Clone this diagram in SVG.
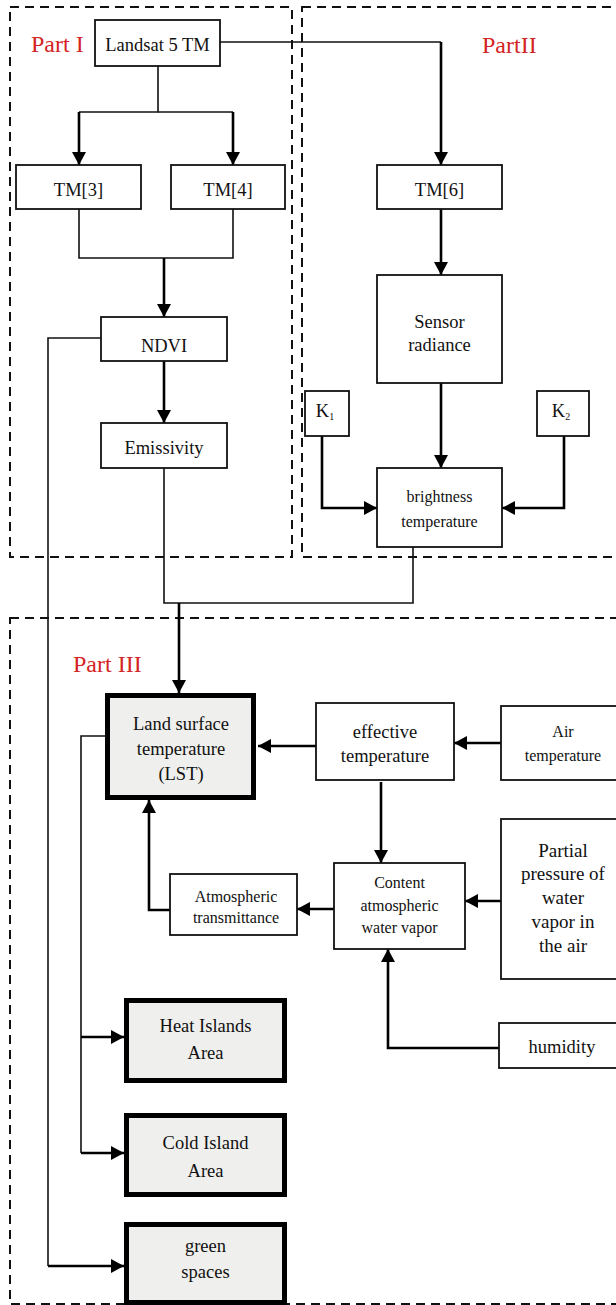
<svg xmlns="http://www.w3.org/2000/svg" width="616" height="1305" viewBox="0 0 616 1305">
<style>
text{font-family:"Liberation Serif","Times New Roman","DejaVu Serif",serif;fill:#111;text-anchor:middle}
.part{fill:#d42424;font-size:24px;text-anchor:start}
.box{fill:#fff;stroke:#111;stroke-width:1.8}
.key{fill:#efefed;stroke:#000;stroke-width:5}
.dash{fill:none;stroke:#111;stroke-width:2;stroke-dasharray:9,6}
.thin{fill:none;stroke:#111;stroke-width:1.6}
.thick{fill:none;stroke:#000;stroke-width:2.6}
.f18{font-size:18.5px}
.f16{font-size:16px}
.f19{font-size:19px}
</style>
<defs>
<marker id="ah" markerUnits="userSpaceOnUse" markerWidth="14" markerHeight="14" refX="13" refY="7" orient="auto">
<path d="M0,0 L13,7 L0,14 Z" fill="#000"/>
</marker>
</defs>
<rect width="616" height="1305" fill="#fff"/>
<g id="frames">
<rect class="dash" x="10" y="7" width="282" height="550"/>
<rect class="dash" x="302" y="7" width="315" height="550"/>
<rect class="dash" x="10" y="618" width="607" height="686"/>
<text class="part" x="31" y="52">Part I</text>
<text class="part" x="482" y="53">PartII</text>
<text class="part" x="73" y="672">Part III</text>
</g>
<g id="connectors">
<path class="thin" d="M158,66 V112 H79"/>
<path class="thin" d="M158,112 H233"/>
<path class="thick" d="M79,112 V165" marker-end="url(#ah)"/>
<path class="thick" d="M233,112 V165" marker-end="url(#ah)"/>
<path class="thin" d="M220,42 H441"/>
<path class="thick" d="M441,42 V165" marker-end="url(#ah)"/>
<path class="thin" d="M79,209 V258 H233 V209"/>
<path class="thick" d="M164,258 V317" marker-end="url(#ah)"/>
<path class="thick" d="M164,361 V423" marker-end="url(#ah)"/>
<path class="thick" d="M441,209 V275" marker-end="url(#ah)"/>
<path class="thick" d="M441,383 V468" marker-end="url(#ah)"/>
<path class="thick" d="M322,436 V508 H377" marker-end="url(#ah)"/>
<path class="thick" d="M564,436 V508 H502" marker-end="url(#ah)"/>
<path class="thin" d="M164,468 V603 H413 V547"/>
<path class="thick" d="M179,603 V693" marker-end="url(#ah)"/>
<path class="thin" d="M101,338 H48 V1266"/>
<path class="thick" d="M48,1266 H124" marker-end="url(#ah)"/>
<path class="thin" d="M105,736 H81 V1153"/>
<path class="thick" d="M81,1037 H124" marker-end="url(#ah)"/>
<path class="thick" d="M81,1153 H124" marker-end="url(#ah)"/>
<path class="thick" d="M316,746 H258" marker-end="url(#ah)"/>
<path class="thick" d="M501,743 H454" marker-end="url(#ah)"/>
<path class="thick" d="M381,782 V863" marker-end="url(#ah)"/>
<path class="thick" d="M501,901 H465" marker-end="url(#ah)"/>
<path class="thick" d="M334,909 H297" marker-end="url(#ah)"/>
<path class="thick" d="M170,910 H149 V800" marker-end="url(#ah)"/>
<path class="thick" d="M499,1048 H388 V949" marker-end="url(#ah)"/>
</g>
<g id="landsat"><rect class="box" x="95" y="20" width="125" height="46"/><text class="f18" x="157.5" y="51">Landsat 5 TM</text></g>
<g id="tm3"><rect class="box" x="16" y="165" width="125" height="44"/><text class="f18" x="78.5" y="196">TM[3]</text></g>
<g id="tm4"><rect class="box" x="171" y="165" width="114" height="44"/><text class="f18" x="228" y="196">TM[4]</text></g>
<g id="tm6"><rect class="box" x="377" y="165" width="125" height="44"/><text class="f18" x="439.5" y="196">TM[6]</text></g>
<g id="ndvi"><rect class="box" x="101" y="317" width="126" height="44"/><text class="f18" x="164" y="352">NDVI</text></g>
<g id="emissivity"><rect class="box" x="101" y="423" width="126" height="45"/><text class="f18" x="164" y="454">Emissivity</text></g>
<g id="sensor"><rect class="box" x="377" y="275" width="125" height="108"/><text class="f18" x="439.5" y="328">Sensor</text><text class="f18" x="439.5" y="351">radiance</text></g>
<g id="k1"><rect class="box" x="305" y="391" width="44" height="45"/><text class="f18" x="325" y="417">K<tspan font-size="10" dy="3">1</tspan></text></g>
<g id="k2"><rect class="box" x="537" y="391" width="52" height="45"/><text class="f18" x="561" y="417">K<tspan font-size="10" dy="3">2</tspan></text></g>
<g id="brightness"><rect class="box" x="377" y="468" width="125" height="79"/><text class="f16" x="439.5" y="502">brightness</text><text class="f16" x="439.5" y="527">temperature</text></g>
<g id="lst"><rect class="key" x="107.5" y="695.5" width="146" height="102"/><text class="f18" x="181" y="730">Land surface</text><text class="f18" x="181" y="755">temperature</text><text class="f18" x="181" y="780">(LST)</text></g>
<g id="effective"><rect class="box" x="316" y="703" width="138" height="77"/><text class="f18" x="385" y="738">effective</text><text class="f18" x="385" y="762">temperature</text></g>
<g id="air"><rect class="box" x="501" y="706" width="118" height="74"/><text class="f16" x="563" y="737">Air</text><text class="f16" x="563" y="761">temperature</text></g>
<g id="content"><rect class="box" x="334" y="863" width="131" height="86"/><text class="f16" x="399.5" y="888">Content</text><text class="f16" x="399.5" y="911">atmospheric</text><text class="f16" x="399.5" y="933">water vapor</text></g>
<g id="partial"><rect class="box" x="501" y="819" width="118" height="160"/><text class="f19" x="563" y="857">Partial</text><text class="f19" x="563" y="880">pressure of</text><text class="f19" x="563" y="904">water</text><text class="f19" x="563" y="928">vapor in</text><text class="f19" x="563" y="952">the air</text></g>
<g id="atmos"><rect class="box" x="170" y="874" width="127" height="61"/><text class="f16" x="236" y="902">Atmospheric</text><text class="f16" x="236" y="923">transmittance</text></g>
<g id="humidity"><rect class="box" x="499" y="1023" width="120" height="45"/><text class="f18" x="562" y="1053">humidity</text></g>
<g id="heat"><rect class="key" x="126.5" y="1000.5" width="158" height="80"/><text class="f18" x="205.5" y="1032">Heat Islands</text><text class="f18" x="205.5" y="1059">Area</text></g>
<g id="cold"><rect class="key" x="126.5" y="1115.5" width="158" height="79"/><text class="f18" x="205.5" y="1149">Cold Island</text><text class="f18" x="205.5" y="1177">Area</text></g>
<g id="green"><rect class="key" x="126.5" y="1224.5" width="158" height="78"/><text class="f18" x="205.5" y="1252">green</text><text class="f18" x="205.5" y="1278">spaces</text></g>
</svg>
